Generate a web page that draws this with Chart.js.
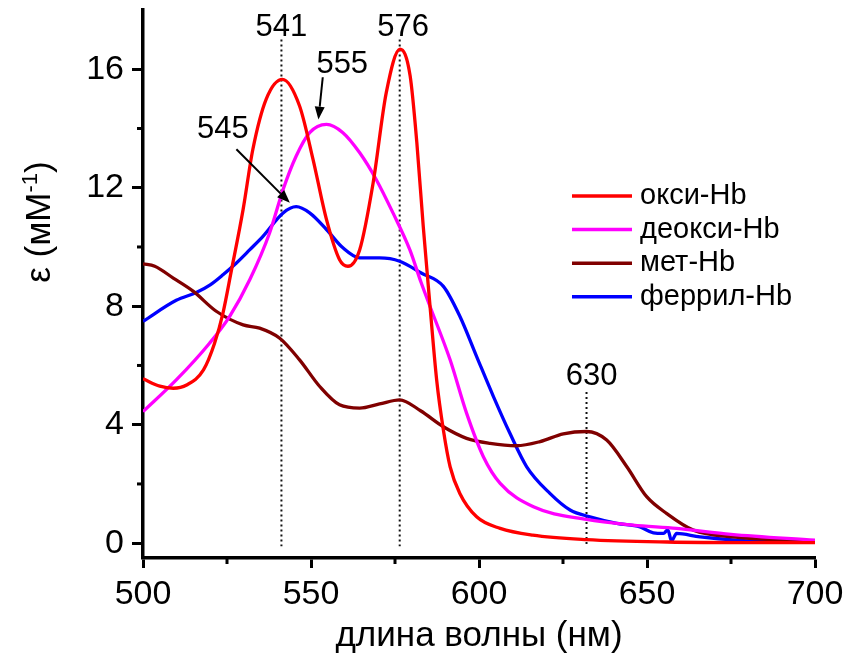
<!DOCTYPE html>
<html lang="ru">
<head>
  <meta charset="UTF-8">
  <title>Спектры поглощения гемоглобина</title>
  <style>
    body { margin: 0; background: #fff; }
    #wrap { width: 847px; height: 659px; }
  </style>
</head>
<body>
  <div id="wrap"><canvas id="spectra" width="847" height="659"></canvas></div>

  <script src="https://cdn.jsdelivr.net/npm/chart.js"></script>
  <script>
    // окси-Hb
    const oxyX = [500, 505, 509, 513, 518, 521.3, 523.8, 526.3, 529.8, 532.7, 536.7, 541.5, 546.6, 550.6, 554.6, 558.5, 561, 564.5, 568.5, 572.4, 576.5, 579.5, 581.5, 583.4, 585.2, 587.4, 589.4, 591.4, 594.3, 599.3, 606.3, 616, 632, 656, 680, 700];
    const oxyY = [5.55, 5.3, 5.23, 5.34, 5.85, 6.75, 7.77, 9.2, 11.27, 13.3, 15.0, 15.66, 14.76, 12.96, 10.93, 9.57, 9.35, 9.91, 12.17, 15.21, 16.68, 15.78, 13.52, 10.7, 8.3, 5.51, 3.82, 2.58, 1.68, 0.89, 0.5, 0.27, 0.12, 0.04, 0.02, 0.02];
    // деокси-Hb
    const deoxyX = [500, 509.9, 519.8, 525.8, 531.8, 537.7, 541.7, 545.6, 549.6, 554.6, 559.5, 564.5, 569.4, 574.4, 579.4, 582.8, 585.4, 591.4, 596.3, 601.3, 606.3, 616.2, 632, 645.8, 658.8, 675, 700];
    const deoxyY = [4.44, 5.51, 6.75, 7.66, 8.9, 10.48, 11.94, 13.07, 13.86, 14.14, 13.86, 13.18, 12.28, 11.15, 9.91, 8.79, 8.0, 6.19, 4.39, 2.92, 2.02, 1.23, 0.8, 0.61, 0.5, 0.3, 0.1];
    // мет-Hb
    const metX = [500, 503.5, 509, 515, 521.8, 529.8, 534.7, 540.7, 546.6, 552.6, 558.5, 564.5, 570.4, 576.4, 582.6, 589.4, 596.3, 603.3, 611.2, 618.2, 625.1, 632, 638, 644, 649.9, 655.9, 663.8, 675.6, 700];
    const metY = [9.43, 9.35, 8.95, 8.5, 7.83, 7.37, 7.26, 6.92, 6.19, 5.29, 4.67, 4.56, 4.7, 4.84, 4.47, 3.93, 3.54, 3.37, 3.29, 3.43, 3.69, 3.77, 3.48, 2.58, 1.57, 1.0, 0.44, 0.21, 0.05];
    // феррил-Hb
    const ferrylX = [500, 509.9, 516, 520, 523.9, 527.8, 531.8, 535.7, 541.7, 545.6, 549.6, 554.6, 559.5, 564.5, 570.4, 576.4, 582.8, 589.4, 594.3, 599.3, 604.3, 609.2, 614.2, 621.1, 627.1, 633, 641, 647.9, 651.9, 654.9, 656.2, 657.3, 658.8, 665.8, 685.6, 700];
    const ferrylY = [7.49, 8.2, 8.47, 8.72, 9.07, 9.46, 9.91, 10.36, 11.15, 11.36, 11.15, 10.59, 9.97, 9.63, 9.63, 9.52, 9.12, 8.67, 7.66, 6.3, 4.95, 3.71, 2.58, 1.68, 1.12, 0.89, 0.67, 0.55, 0.35, 0.33, 0.45, 0.08, 0.33, 0.21, 0.05, 0.04];

    const seriesLabels = ['окси-Hb', 'деокси-Hb', 'мет-Hb', 'феррил-Hb'];
    const seriesColors = ['#ff0000', '#ff00ff', '#800000', '#0000ff'];

    const minorX = [525, 575, 625, 675];
    const minorY = [2, 6, 10, 14];

    // vertical dotted markers (wavelength, top value)
    const markerX = [541.2, 576.4, 632];
    const markerTop = [17.0, 17.0, 5.1];

    // peak labels
    const labelText = ['541', '576', '555', '545', '630'];
    const labelX = [541.2, 577.4, 559.3, 523.8, 633.5];
    const labelY = [17.42, 17.42, 16.17, 13.97, 5.63];

    // arrows (from -> to)
    const arrowFromX = [553.5, 527.8];
    const arrowFromY = [15.73, 13.3];
    const arrowToX = [552.2, 543.7];
    const arrowToY = [14.3, 11.49];

    const FONT = "'Liberation Sans', Arial, sans-serif";

    function pts(xs, ys) {
      return xs.map((v, i) => ({ x: v, y: ys[i] }));
    }

    const decor = {
      id: 'decor',
      beforeDatasetsDraw(chart) {
        const { ctx, scales: { x, y } } = chart;
        ctx.save();
        ctx.strokeStyle = '#111';
        ctx.lineWidth = 2;
        ctx.setLineDash([2, 3]);
        markerX.forEach((v, i) => {
          const px = x.getPixelForValue(v);
          ctx.beginPath();
          ctx.moveTo(px, y.getPixelForValue(markerTop[i]));
          ctx.lineTo(px, y.getPixelForValue(-0.1));
          ctx.stroke();
        });
        ctx.restore();
      },
      afterDraw(chart) {
        const { ctx, chartArea, scales: { x, y } } = chart;
        ctx.save();

        // minor ticks
        ctx.strokeStyle = '#000';
        ctx.lineWidth = 3;
        minorX.forEach(v => {
          const px = x.getPixelForValue(v);
          ctx.beginPath();
          ctx.moveTo(px, chartArea.bottom);
          ctx.lineTo(px, chartArea.bottom + 6);
          ctx.stroke();
        });
        minorY.forEach(v => {
          const py = y.getPixelForValue(v);
          ctx.beginPath();
          ctx.moveTo(chartArea.left, py);
          ctx.lineTo(chartArea.left - 6, py);
          ctx.stroke();
        });

        // peak labels
        ctx.fillStyle = '#000';
        ctx.font = '31px ' + FONT;
        ctx.textAlign = 'center';
        ctx.textBaseline = 'middle';
        labelText.forEach((t, i) => {
          ctx.fillText(t, x.getPixelForValue(labelX[i]), y.getPixelForValue(labelY[i]));
        });

        // arrows
        ctx.lineWidth = 2;
        arrowFromX.forEach((v, i) => {
          const x0 = x.getPixelForValue(v), y0 = y.getPixelForValue(arrowFromY[i]);
          const x1 = x.getPixelForValue(arrowToX[i]), y1 = y.getPixelForValue(arrowToY[i]);
          const a = Math.atan2(y1 - y0, x1 - x0);
          const hl = 13, hw = 5;
          const bx = x1 - hl * Math.cos(a), by = y1 - hl * Math.sin(a);
          ctx.beginPath();
          ctx.moveTo(x0, y0);
          ctx.lineTo(bx, by);
          ctx.stroke();
          ctx.beginPath();
          ctx.moveTo(x1, y1);
          ctx.lineTo(bx + hw * Math.sin(a), by - hw * Math.cos(a));
          ctx.lineTo(bx - hw * Math.sin(a), by + hw * Math.cos(a));
          ctx.closePath();
          ctx.fill();
        });

        // legend
        ctx.font = '29px ' + FONT;
        ctx.textAlign = 'left';
        seriesLabels.forEach((t, i) => {
          const ly = 196 + i * 33.6;
          ctx.strokeStyle = seriesColors[i];
          ctx.lineWidth = 3.5;
          ctx.beginPath();
          ctx.moveTo(572, ly);
          ctx.lineTo(632, ly);
          ctx.stroke();
          ctx.fillStyle = '#000';
          ctx.fillText(t, 640, ly);
        });

        // y axis title with superscript
        ctx.translate(38, 222);
        ctx.rotate(-Math.PI / 2);
        const big = '35px ' + FONT, small = '22px ' + FONT;
        ctx.font = big;
        const w1 = ctx.measureText('ε (мМ').width;
        const w3 = ctx.measureText(')').width;
        ctx.font = small;
        const w2 = ctx.measureText('-1').width;
        let cx = -(w1 + w2 + w3) / 2;
        ctx.fillStyle = '#000';
        ctx.textBaseline = 'alphabetic';
        ctx.font = big;
        ctx.fillText('ε (мМ', cx, 12);
        cx += w1;
        ctx.font = small;
        ctx.fillText('-1', cx, -1);
        cx += w2;
        ctx.font = big;
        ctx.fillText(')', cx, 12);

        ctx.restore();
      }
    };

    const xs = [oxyX, deoxyX, metX, ferrylX];
    const ys = [oxyY, deoxyY, metY, ferrylY];

    const chart = new Chart(document.getElementById('spectra'), {
      type: 'line',
      data: {
        datasets: seriesLabels.map((lab, i) => ({
          label: lab,
          data: pts(xs[i], ys[i]),
          borderColor: seriesColors[i],
          borderWidth: 3.3,
          pointRadius: 0,
          fill: false,
          cubicInterpolationMode: 'monotone'
        }))
      },
      options: {
        responsive: false,
        animation: false,
        layout: { padding: { left: 0, right: 32, top: 10, bottom: 0 } },
        scales: {
          x: {
            type: 'linear',
            min: 500,
            max: 700,
            afterFit(scale) {
              scale.height = 101;
              scale.paddingLeft = 0;
              scale.paddingRight = 0;
            },
            ticks: {
              stepSize: 50,
              autoSkip: false,
              maxRotation: 0,
              includeBounds: false,
              padding: 6,
              color: '#000',
              font: { family: FONT, size: 34 }
            },
            grid: { drawOnChartArea: false, tickLength: 10, tickWidth: 3, tickColor: '#000' },
            border: { display: true, color: '#000', width: 3.5 },
            title: {
              display: true,
              text: 'длина волны (нм)',
              color: '#000',
              font: { family: FONT, size: 35 },
              padding: { top: 0, bottom: 2 }
            }
          },
          y: {
            min: -0.5,
            max: 18,
            afterFit(scale) {
              scale.width = 143;
              scale.paddingTop = 0;
              scale.paddingBottom = 0;
            },
            ticks: {
              stepSize: 4,
              includeBounds: false,
              padding: 8,
              color: '#000',
              font: { family: FONT, size: 34 }
            },
            grid: { drawOnChartArea: false, tickLength: 11, tickWidth: 3, tickColor: '#000' },
            border: { display: true, color: '#000', width: 3.5 }
          }
        },
        plugins: {
          legend: { display: false },
          tooltip: { enabled: false }
        }
      },
      plugins: [decor]
    });
  </script>
</body>
</html>
